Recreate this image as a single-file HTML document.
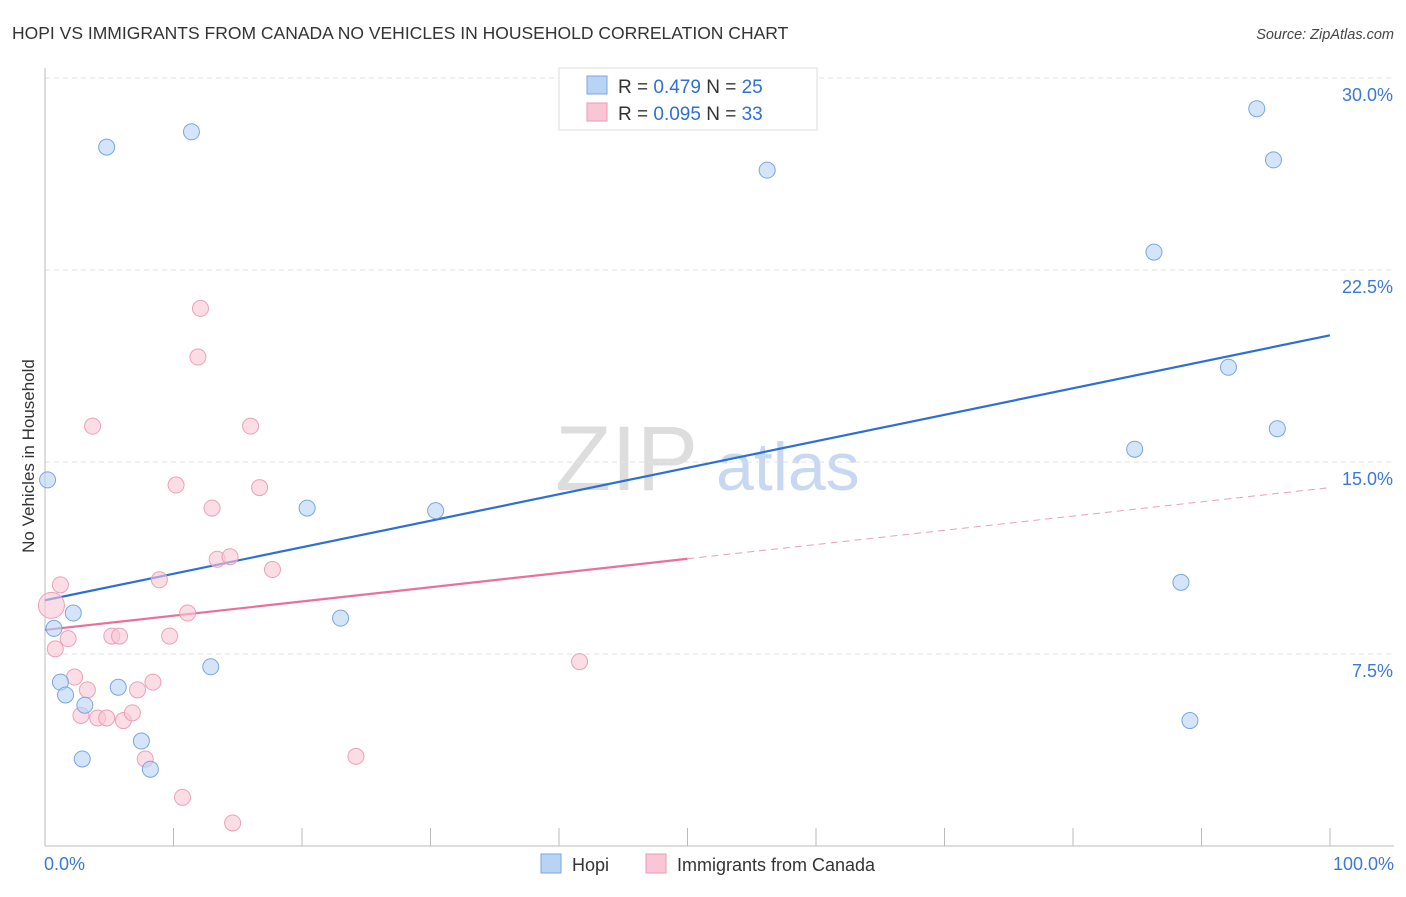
<!DOCTYPE html>
<html><head><meta charset="utf-8"><style>
body{margin:0;background:#fff;font-family:"Liberation Sans",sans-serif}
svg text{font-family:"Liberation Sans",sans-serif}
</style></head><body>
<svg width="1406" height="892" xmlns="http://www.w3.org/2000/svg">
<text x="12" y="39" font-size="17.5" fill="#333">HOPI VS IMMIGRANTS FROM CANADA NO VEHICLES IN HOUSEHOLD CORRELATION CHART</text>
<text x="1394" y="39" font-size="14.5" fill="#444" text-anchor="end" font-style="italic">Source: ZipAtlas.com</text>
<text transform="translate(34,456) rotate(-90)" font-size="17" fill="#333" text-anchor="middle">No Vehicles in Household</text>
<text x="555" y="490" font-size="92" fill="#ddd" font-family="Liberation Serif">ZIP</text>
<text x="716" y="490" font-size="68" fill="#c8d8f0">atlas</text>
<g id="grid"></g><g id="axes"></g><g id="lines"></g><g id="pts"></g>
<g>
<rect x="559" y="68" width="258" height="62" fill="#fff" stroke="#ddd"/>
<rect x="587" y="76" width="20" height="18" fill="#b8d4f5" stroke="#7aa6e0"/>
<text x="618" y="93" font-size="19" fill="#333">R = <tspan fill="#2f6fd6">0.479</tspan>   N = <tspan fill="#2f6fd6">25</tspan></text>
<rect x="587" y="103" width="20" height="18" fill="#f9c6d6" stroke="#ec9ab5"/>
<text x="618" y="120" font-size="19" fill="#333">R = <tspan fill="#2f6fd6">0.095</tspan>   N = <tspan fill="#2f6fd6">33</tspan></text>
</g>
<g>
<rect x="541" y="854" width="20" height="19" fill="#b8d4f5" stroke="#7aa6e0"/>
<text x="572" y="871" font-size="18" fill="#333">Hopi</text>
<rect x="646" y="854" width="20" height="19" fill="#f9c6d6" stroke="#ec9ab5"/>
<text x="677" y="871" font-size="18" fill="#333">Immigrants from Canada</text>
</g>
</svg>
<script>
const yTicks=[7.5,15,22.5,30];
const hopiX=[0.2,4.8,11.4,56.2,94.3,95.6,86.3,92.1,95.9,84.8,20.4,30.4,88.4,2.2,23.0,0.7,12.9,1.2,1.6,5.7,3.1,89.1,7.5,2.9,8.2];
const hopiY=[14.3,27.3,27.9,26.4,28.8,26.8,23.2,18.7,16.3,15.5,13.2,13.1,10.3,9.1,8.9,8.5,7.0,6.4,5.9,6.2,5.5,4.9,4.1,3.4,3.0];
const canX=[0.5,1.2,1.8,0.8,3.7,12.1,11.9,16.0,10.2,16.7,13.0,13.4,14.4,17.7,8.9,11.1,5.2,5.8,9.7,2.3,3.3,8.4,7.2,2.8,4.1,4.8,6.1,6.8,7.8,10.7,14.6,24.2,41.6];
const canY=[9.4,10.2,8.1,7.7,16.4,21.0,19.1,16.4,14.1,14.0,13.2,11.2,11.3,10.8,10.4,9.1,8.2,8.2,8.2,6.6,6.1,6.4,6.1,5.1,5.0,5.0,4.9,5.2,3.4,1.9,0.9,3.5,7.2];
const hopiTrend=[9.6,19.95];
const canTrend=[8.44,14.0];
const NS="http://www.w3.org/2000/svg";
const X=v=>45+v*12.85, Y=v=>846-v*25.6;
function mk(t,a,p){const e=document.createElementNS(NS,t);for(const k in a)e.setAttribute(k,a[k]);document.getElementById(p).appendChild(e);return e;}
yTicks.forEach(t=>{
 const l=mk('line',{x1:45,x2:1394,y1:Y(t),y2:Y(t),stroke:'#e2e2e2','stroke-dasharray':'5,4'},'grid');
 
 
 const tx=mk('text',{x:1393,y:Y(t)+23,'font-size':18,fill:'#3b78d8','text-anchor':'end'},'grid');
 tx.textContent=t.toFixed(1)+'%';
 
 
});
const ax=mk('line',{x1:45,x2:1394,y1:846,y2:846,stroke:'#bbb'},'axes');


const ay=mk('line',{x1:45,x2:45,y1:68,y2:846,stroke:'#bbb'},'axes');


for(let i=0;i<=10;i++){const t=mk('line',{x1:X(i*10),x2:X(i*10),y1:828,y2:846,stroke:'#bbb'},'axes');
 
 }
[[0,'0.0%','start',44],[100,'100.0%','end',1394]].forEach(([v,s,a,x])=>{const t=mk('text',{x:x,y:870,'font-size':18,fill:'#3b78d8','text-anchor':a},'axes');t.textContent=s;
 
 });
const bl=mk('line',{x1:X(0),y1:Y(hopiTrend[0]),x2:X(100),y2:Y(hopiTrend[1]),stroke:'#2d6fd6','stroke-width':2.2},'lines');


const cm=(canTrend[0]+canTrend[1])/2;
const pl=mk('line',{x1:X(0),y1:Y(canTrend[0]),x2:X(50),y2:Y(cm),stroke:'#e8709a','stroke-width':2.2},'lines');


const pd=mk('line',{x1:X(50),y1:Y(cm),x2:X(100),y2:Y(canTrend[1]),stroke:'#e8a0b8','stroke-width':1,'stroke-dasharray':'7,5'},'lines');


canX.forEach((x,i)=>{const c=mk('circle',{cx:X(x),cy:Y(canY[i]),r:i==0?13:8,fill:'#f9c6d6','fill-opacity':0.6,stroke:'#eca0b8'},'pts');
 
 });
hopiX.forEach((x,i)=>{const c=mk('circle',{cx:X(x),cy:Y(hopiY[i]),r:8,fill:'#b8d4f5','fill-opacity':0.6,stroke:'#7aa6e0'},'pts');
 
 });
</script>
</body></html>
